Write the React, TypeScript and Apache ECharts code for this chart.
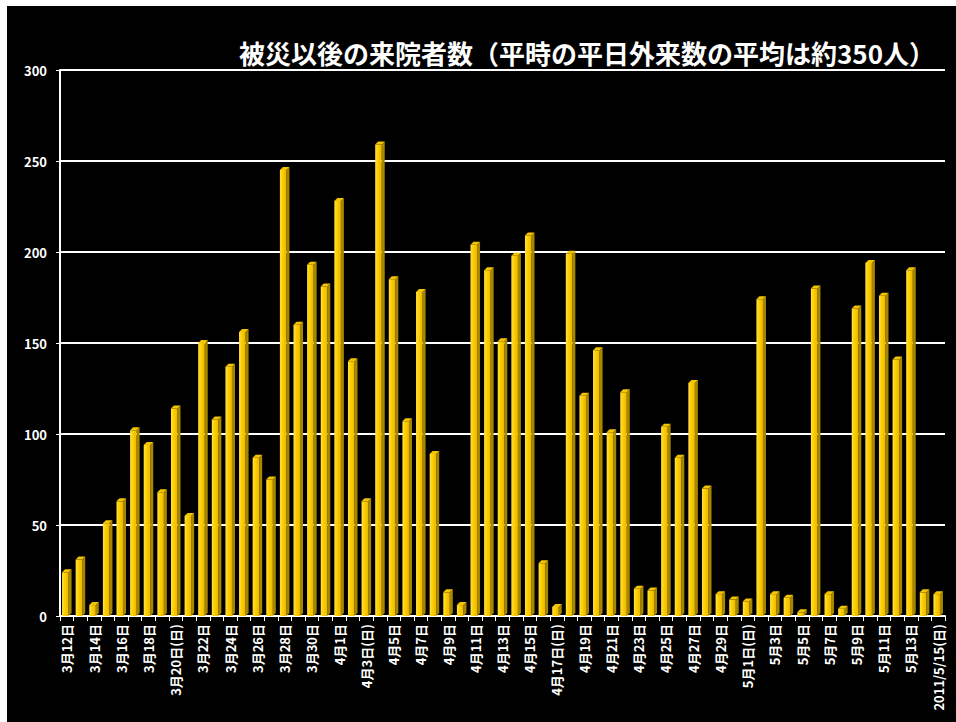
import React, { useEffect, useRef } from "react";
import * as echarts from "echarts";

const TITLE = "被災以後の来院者数（平時の平日外来数の平均は約350人）";

const marchDates = [
  "3月12日", "3月13日(日)", "3月14日", "3月15日", "3月16日", "3月17日", "3月18日", "3月19日",
  "3月20日(日)", "3月21日", "3月22日", "3月23日", "3月24日", "3月25日", "3月26日", "3月27日(日)",
  "3月28日", "3月29日", "3月30日", "3月31日",
];
const aprilDates = [
  "4月1日", "4月2日", "4月3日(日)", "4月4日", "4月5日", "4月6日", "4月7日", "4月8日", "4月9日",
  "4月10日(日)", "4月11日", "4月12日", "4月13日", "4月14日", "4月15日", "4月16日", "4月17日(日)",
  "4月18日", "4月19日", "4月20日", "4月21日", "4月22日", "4月23日", "4月24日(日)", "4月25日",
  "4月26日", "4月27日", "4月28日", "4月29日", "4月30日",
];
const mayDates = [
  "5月1日(日)", "5月2日", "5月3日", "5月4日", "5月5日", "5月6日", "5月7日", "5月8日(日)",
  "5月9日", "5月10日", "5月11日", "5月12日", "5月13日", "5月14日", "2011/5/15(日)",
];

const marchVisits = [24, 31, 6, 51, 63, 102, 94, 68, 114, 55, 150, 108, 137, 156, 87, 75, 245, 160, 193, 181];
const aprilVisits = [
  228, 140, 63, 259, 185, 107, 178, 89, 13, 6, 204, 190, 151, 198, 209, 29, 5, 199, 121, 146,
  101, 123, 15, 14, 104, 87, 128, 70, 12, 9,
];
const mayVisits = [8, 174, 12, 10, 2, 180, 12, 4, 169, 194, 176, 141, 190, 13, 12];

const yTicks = { min: 0, max: 300, step: 50 };

const categories = [...marchDates, ...aprilDates, ...mayDates];
const visits = [...marchVisits, ...aprilVisits, ...mayVisits];

const FONT = "'Noto Sans CJK JP', 'Noto Sans', sans-serif";

export default function App() {
  const ref = useRef<HTMLDivElement>(null);

  useEffect(() => {
    if (!ref.current) return;
    const chart = echarts.init(ref.current, null, { renderer: "svg" });
    const frontFill = new echarts.graphic.LinearGradient(0, 0, 1, 0, [
      { offset: 0, color: "#FFE04A" },
      { offset: 0.4, color: "#FFD000" },
      { offset: 1, color: "#E8B800" },
    ]);
    chart.setOption({
      animation: false,
      backgroundColor: "#000000",
      title: {
        text: TITLE,
        left: 227,
        top: 28,
        textStyle: { color: "#ffffff", fontSize: 26, fontWeight: "bold", fontFamily: FONT },
      },
      grid: { left: 53, top: 64, right: 11, bottom: 106, containLabel: false },
      xAxis: {
        type: "category",
        data: categories,
        axisLine: { show: true, lineStyle: { color: "#ffffff", width: 2 } },
        axisTick: { show: true, interval: 0, length: 5, lineStyle: { color: "#ffffff", width: 1 } },
        axisLabel: {
          interval: 1,
          rotate: 90,
          color: "#ffffff",
          fontSize: 13,
          fontWeight: "bold",
          fontFamily: FONT,
          margin: 8,
        },
        splitLine: { show: false },
      },
      yAxis: {
        type: "value",
        min: yTicks.min,
        max: yTicks.max,
        interval: yTicks.step,
        axisLine: { show: true, lineStyle: { color: "#ffffff", width: 2 } },
        axisTick: { show: true, length: 4, lineStyle: { color: "#ffffff", width: 1 } },
        axisLabel: { color: "#ffffff", fontSize: 13, fontWeight: "bold", fontFamily: FONT, margin: 13 },
        splitLine: { show: true, lineStyle: { color: "#ffffff", width: 2 } },
      },
      series: [
        {
          type: "custom",
          data: visits.map((v, i) => [i, v]),
          encode: { x: 0, y: 1 },
          renderItem: (params: any, api: any) => {
            const idx = api.value(0);
            const val = api.value(1);
            const top = api.coord([idx, val]);
            const base = api.coord([idx, 0]);
            const bw = api.size([1, 0])[0];
            const fw = bw * 0.48;
            const d = bw * 0.22;
            const x0 = top[0] - (fw + d) / 2;
            const y0 = top[1];
            const y1 = base[1];
            return {
              type: "group",
              children: [
                {
                  type: "polygon",
                  shape: {
                    points: [
                      [x0 + fw, y0],
                      [x0 + fw + d, y0 - d],
                      [x0 + fw + d, y1 - d],
                      [x0 + fw, y1],
                    ],
                  },
                  style: { fill: "#A88600" },
                },
                {
                  type: "rect",
                  shape: { x: x0, y: y0, width: fw, height: Math.max(0, y1 - y0) },
                  style: { fill: frontFill },
                },
                {
                  type: "polygon",
                  shape: {
                    points: [
                      [x0, y0],
                      [x0 + d, y0 - d],
                      [x0 + fw + d, y0 - d],
                      [x0 + fw, y0],
                    ],
                  },
                  style: { fill: "#F5C400" },
                },
              ],
            };
          },
        },
      ],
    });
    return () => chart.dispose();
  }, []);

  return (
    <div
      ref={ref}
      style={{ position: "absolute", left: 7, top: 6, width: 949, height: 716, background: "#000" }}
    />
  );
}
